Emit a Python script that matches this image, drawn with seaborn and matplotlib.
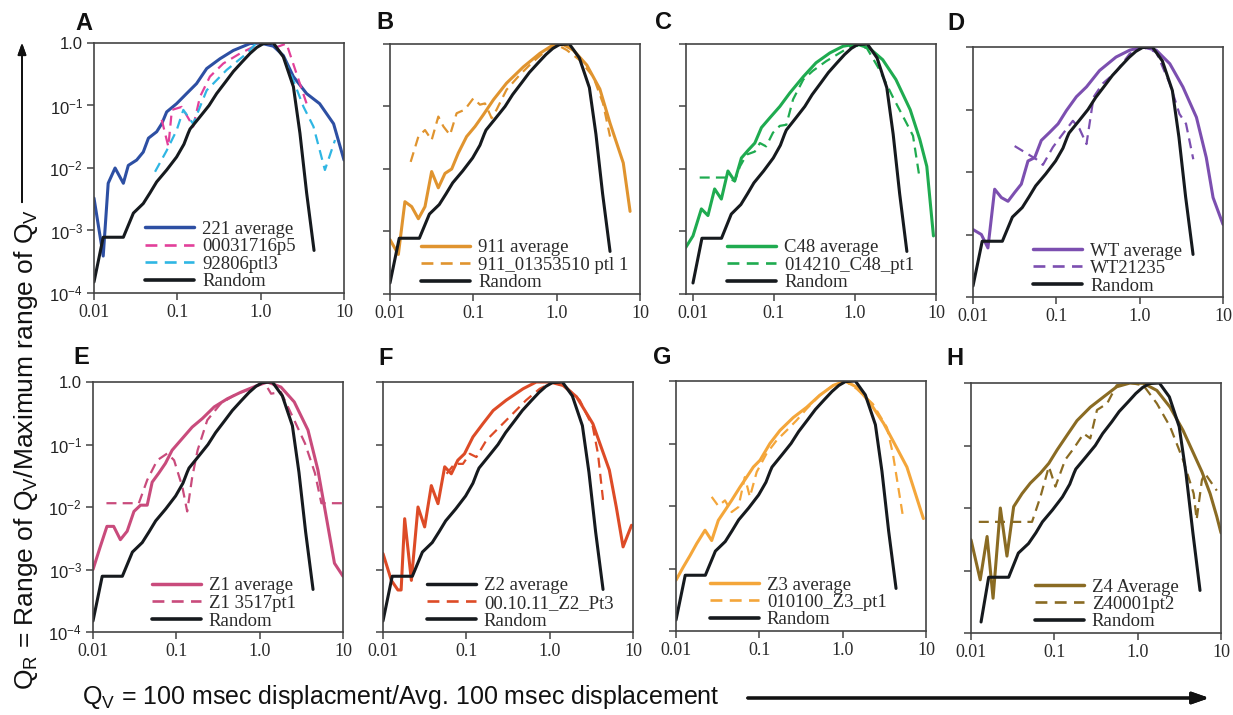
import numpy as np
import pandas as pd
import seaborn as sns
import matplotlib.pyplot as plt
from matplotlib.lines import Line2D
from matplotlib.ticker import FixedLocator, FixedFormatter, NullLocator
from matplotlib.font_manager import FontProperties

# ---- data ----
# random reference curve (black), same in panels A-G
rand_x = [0.0100, 0.0129, 0.0225, 0.0297, 0.0390, 0.0470, 0.0565, 0.0745, 0.098, 0.120, 0.135, 0.142,
          0.187, 0.240, 0.296, 0.380, 0.470, 0.600, 0.745, 0.900, 1.08, 1.42, 1.87, 2.47, 2.96, 3.56, 4.37]
rand_y = [1.5e-4, 7.8e-4, 7.8e-4, 1.9e-3, 2.7e-3, 4.0e-3, 6.0e-3, 9.3e-3, 0.015, 0.024, 0.036, 0.042,
          0.066, 0.100, 0.155, 0.240, 0.350, 0.500, 0.680, 0.850, 0.98, 1.0, 0.60, 0.20, 0.036, 4.0e-3, 4.8e-4]
# panel H random is drawn a bit to the right
rand_h_x = [0.0132, 0.0163, 0.0283, 0.037, 0.049, 0.060, 0.072, 0.095, 0.125, 0.153, 0.172, 0.181,
            0.24, 0.31, 0.38, 0.49, 0.60, 0.77, 0.95, 1.15, 1.38, 1.82, 2.4, 3.15, 3.8, 4.6, 5.6]
rand_h_y = rand_y

# A
a_avg_x = [0.01, 0.0129, 0.0148, 0.0179, 0.0225, 0.0258, 0.0325, 0.039, 0.045, 0.0565, 0.065, 0.0745, 0.098,
           0.129, 0.17, 0.225, 0.325, 0.47, 0.745, 0.98, 1.42, 1.87, 2.47, 3.56, 5.1, 7.5, 10]
a_avg_y = [3.3e-3, 3.9e-4, 5.7e-3, 0.010, 5.7e-3, 0.011, 0.0134, 0.018, 0.030, 0.038, 0.051, 0.079, 0.107,
           0.155, 0.224, 0.39, 0.56, 0.76, 0.98, 1.0, 0.89, 0.63, 0.29, 0.155, 0.107, 0.051, 0.0134]
a_p5_x = [0.065, 0.078, 0.086, 0.113, 0.155, 0.187, 0.246, 0.356, 0.565, 0.89, 1.18, 1.56, 2.04, 2.7, 3.56]
a_p5_y = [0.059, 0.022, 0.085, 0.095, 0.046, 0.138, 0.29, 0.47, 0.68, 0.92, 1.0, 0.86, 0.98, 0.32, 0.107]
a_p13_x = [0.054, 0.0745, 0.098, 0.118, 0.155, 0.225, 0.39, 0.68, 0.89, 1.42, 1.87, 2.47, 3.27, 4.3, 5.9, 7.8]
a_p13_y = [8.7e-3, 0.019, 0.040, 0.085, 0.051, 0.175, 0.37, 0.68, 1.0, 1.0, 0.6, 0.25, 0.095, 0.046, 9.3e-3, 0.028]

# B
b_avg_x = [0.01, 0.0126, 0.0151, 0.0182, 0.0219, 0.0263, 0.0316, 0.038, 0.0457, 0.055, 0.066, 0.083, 0.105,
           0.132, 0.174, 0.25, 0.398, 0.63, 0.91, 1.2, 1.58, 2.3, 3.3, 4.37, 6.3, 7.6]
b_avg_y = [7.4e-4, 4.3e-4, 3.0e-3, 2.5e-3, 1.6e-3, 2.5e-3, 9.1e-3, 5.0e-3, 8.5e-3, 0.010, 0.018, 0.033, 0.048,
           0.074, 0.128, 0.236, 0.43, 0.71, 0.97, 0.98, 0.80, 0.46, 0.19, 0.054, 0.0125, 2.1e-3]
b_pt_x = [0.0177, 0.0219, 0.0263, 0.0316, 0.038, 0.0437, 0.0525, 0.063, 0.079, 0.10, 0.12, 0.138, 0.166, 0.19,
          0.25, 0.36, 0.52, 0.76, 1.0, 1.32, 1.9, 2.75, 3.6, 4.37]
b_pt_y = [0.013, 0.033, 0.042, 0.029, 0.069, 0.048, 0.035, 0.078, 0.089, 0.135, 0.107, 0.112, 0.065, 0.089,
          0.185, 0.32, 0.52, 0.80, 0.98, 0.80, 0.55, 0.30, 0.112, 0.033]

# C
c_avg_x = [0.0081, 0.01, 0.0127, 0.0153, 0.0185, 0.0224, 0.027, 0.0327, 0.0396, 0.048, 0.058, 0.07, 0.089,
           0.118, 0.157, 0.23, 0.33, 0.49, 0.71, 1.04, 1.5, 2.2, 3.2, 4.8, 6.3, 7.7, 9.3]
c_avg_y = [5.5e-4, 8.5e-4, 2.3e-3, 1.8e-3, 4.8e-3, 3.3e-3, 9.3e-3, 6.4e-3, 0.015, 0.020, 0.026, 0.046, 0.066,
           0.10, 0.165, 0.30, 0.50, 0.72, 0.92, 1.0, 0.86, 0.56, 0.27, 0.089, 0.030, 0.011, 8.5e-4]
c_pt_x = [0.0121, 0.0259, 0.0327, 0.038, 0.046, 0.058, 0.067, 0.08, 0.097, 0.118, 0.142, 0.172, 0.23, 0.30,
          0.44, 0.65, 0.95, 1.4, 2.0, 2.9, 4.3, 5.2, 6.3]
c_pt_y = [7.3e-3, 7.3e-3, 6.4e-3, 0.011, 0.017, 0.019, 0.026, 0.023, 0.038, 0.049, 0.051, 0.13, 0.27, 0.37,
          0.53, 0.72, 0.97, 0.86, 0.39, 0.146, 0.055, 0.034, 6.9e-3]

# D
d_avg_x = [0.01, 0.0126, 0.0151, 0.0182, 0.0219, 0.0263, 0.0316, 0.038, 0.0457, 0.055, 0.066, 0.083, 0.105,
           0.132, 0.174, 0.23, 0.33, 0.52, 0.76, 1.1, 1.58, 2.3, 3.3, 4.8, 6.3, 7.6, 10]
d_avg_y = [1.2e-3, 1.0e-3, 6.1e-4, 5.3e-3, 3.9e-3, 3.4e-3, 4.7e-3, 6.4e-3, 0.015, 0.017, 0.032, 0.043, 0.059,
           0.096, 0.16, 0.23, 0.42, 0.69, 0.89, 1.0, 0.89, 0.54, 0.23, 0.075, 0.017, 3.9e-3, 1.45e-3]
d_pt_x = [0.0316, 0.0575, 0.069, 0.091, 0.12, 0.158, 0.19, 0.23, 0.28, 0.36, 0.52, 0.76, 1.1, 1.58, 2.3, 3.0,
          3.6, 4.4]
d_pt_y = [0.026, 0.016, 0.013, 0.025, 0.041, 0.066, 0.049, 0.028, 0.158, 0.26, 0.40, 0.78, 0.99, 0.83, 0.26,
          0.085, 0.059, 0.016]

# E
e_avg_x = [0.01, 0.0122, 0.0147, 0.0177, 0.0213, 0.0257, 0.031, 0.0372, 0.0447, 0.0513, 0.0617, 0.074, 0.089,
           0.118, 0.155, 0.205, 0.285, 0.41, 0.60, 0.94, 1.24, 1.8, 2.6, 3.8, 5.0, 6.0, 7.9, 10]
e_avg_y = [1.0e-3, 2.3e-3, 4.9e-3, 4.9e-3, 3.0e-3, 4.1e-3, 8.5e-3, 0.0107, 0.0107, 0.025, 0.035, 0.050, 0.081,
           0.125, 0.19, 0.26, 0.40, 0.54, 0.69, 0.88, 1.0, 0.83, 0.48, 0.17, 0.039, 0.010, 1.26e-3, 7.8e-4]
e_pt_x = [0.0145, 0.0355, 0.0447, 0.059, 0.078, 0.094, 0.118, 0.135, 0.155, 0.18, 0.235, 0.34, 0.49, 0.78,
          1.13, 1.37, 1.8, 2.6, 3.5, 4.6, 5.5, 10]
e_pt_y = [0.0115, 0.0115, 0.027, 0.056, 0.072, 0.056, 0.021, 8.5e-3, 0.030, 0.081, 0.245, 0.45, 0.61, 0.78,
          1.0, 0.65, 0.69, 0.245, 0.104, 0.035, 0.0115, 0.0115]

# F
f_avg_x = [0.01, 0.0126, 0.0151, 0.0165, 0.0182, 0.0219, 0.0263, 0.0316, 0.038, 0.0457, 0.055, 0.066, 0.079,
           0.095, 0.12, 0.158, 0.21, 0.30, 0.48, 0.69, 1.0, 1.45, 2.1, 3.3, 5.2, 6.3, 7.6, 9.6]
f_avg_y = [1.8e-3, 6.7e-4, 4.7e-4, 4.7e-4, 6.5e-3, 6.7e-4, 0.010, 4.8e-3, 0.022, 0.0113, 0.044, 0.034, 0.056,
           0.071, 0.132, 0.215, 0.35, 0.51, 0.78, 1.0, 1.0, 0.88, 0.58, 0.215, 0.039, 0.010, 2.3e-3, 5.1e-3]
f_pt_x = [0.058, 0.072, 0.091, 0.11, 0.132, 0.174, 0.25, 0.36, 0.52, 0.76, 1.1, 1.58, 2.3, 3.3, 3.8, 4.4]
f_pt_y = [0.034, 0.049, 0.049, 0.071, 0.063, 0.117, 0.19, 0.31, 0.51, 0.78, 1.0, 0.83, 0.51, 0.19, 0.071, 0.012]

# G
g_avg_x = [0.01, 0.0122, 0.0147, 0.0177, 0.0223, 0.0268, 0.0322, 0.0387, 0.0465, 0.0585, 0.0705, 0.0847,
           0.102, 0.134, 0.177, 0.255, 0.37, 0.53, 0.77, 1.07, 1.47, 2.1, 3.1, 4.4, 5.9, 9.3]
g_avg_y = [6.5e-4, 1.05e-3, 1.6e-3, 2.5e-3, 4.1e-3, 2.8e-3, 5.9e-3, 8.5e-3, 0.0123, 0.020, 0.029, 0.042,
           0.054, 0.10, 0.162, 0.26, 0.38, 0.59, 0.85, 1.0, 0.80, 0.46, 0.21, 0.088, 0.042, 6.3e-3]
g_pt_x = [0.0268, 0.0322, 0.0387, 0.0465, 0.056, 0.067, 0.077, 0.093, 0.122, 0.161, 0.213, 0.28, 0.37, 0.53,
          0.77, 1.07, 1.47, 2.3, 3.4, 4.0, 5.3]
g_pt_y = [0.014, 0.010, 0.0123, 8.0e-3, 9.6e-3, 0.029, 0.014, 0.035, 0.069, 0.112, 0.162, 0.235, 0.36, 0.59,
          0.85, 1.0, 0.75, 0.43, 0.18, 0.069, 6.7e-3]

# H
h_avg_x = [0.01, 0.0129, 0.0156, 0.0184, 0.0225, 0.027, 0.0325, 0.041, 0.0515, 0.068, 0.086, 0.108, 0.142,
           0.187, 0.27, 0.39, 0.56, 0.81, 1.17, 1.7, 2.45, 3.5, 4.7, 5.9, 7.4, 8.9, 10]
h_avg_y = [3.1e-3, 7.1e-4, 3.5e-3, 3.6e-4, 0.010, 1.7e-3, 0.0105, 0.017, 0.025, 0.036, 0.052, 0.085, 0.146,
           0.25, 0.41, 0.60, 0.87, 1.0, 0.99, 0.76, 0.41, 0.175, 0.074, 0.038, 0.017, 7.3e-3, 4.0e-3]
h_pt_x = [0.0124, 0.054, 0.068, 0.086, 0.103, 0.135, 0.17, 0.225, 0.27, 0.325, 0.43, 0.56, 0.81, 1.17, 1.7,
          2.45, 3.5, 4.7, 5.1, 5.9, 6.4, 8.9]
h_pt_y = [6.0e-3, 6.0e-3, 0.015, 0.046, 0.022, 0.059, 0.089, 0.155, 0.13, 0.37, 0.47, 0.92, 1.0, 0.92, 0.47,
          0.20, 0.059, 0.017, 6.5e-3, 0.028, 0.036, 0.019]

xticks = [0.01, 0.1, 1.0, 10]
xtick_labels = ["0.01", "0.1", "1.0", "10"]
yticks = [1e-4, 1e-3, 1e-2, 1e-1, 1.0]
ytick_labels = ["10$^{-4}$", "10$^{-3}$", "10$^{-2}$", "10$^{-1}$", "1.0"]

BLACK = "#161a1e"
solid_lw, dash_lw = 2.2, 1.6
dash = (0, (4.5, 2.8))

# panel specs: (letter, lines, left px, top px, xmin, legend x)
panels = [
    ("A", [(a_avg_x, a_avg_y, "#2d4fa3", "-", "221 average"),
           (a_p5_x, a_p5_y, "#e2409a", dash, "00031716p5"),
           (a_p13_x, a_p13_y, "#2fb6e3", dash, "92806ptl3")], 94, 43, 0.01, 0.205),
    ("B", [(b_avg_x, b_avg_y, "#e0942f", "-", "911 average"),
           (b_pt_x, b_pt_y, "#e0942f", dash, "911_01353510 ptl 1")], 390, 44, 0.01, 0.125),
    ("C", [(c_avg_x, c_avg_y, "#1fab50", "-", "C48 average"),
           (c_pt_x, c_pt_y, "#1fab50", dash, "014210_C48_pt1")], 686, 44, 0.0082, 0.165),
    ("D", [(d_avg_x, d_avg_y, "#7c4fb0", "-", "WT average"),
           (d_pt_x, d_pt_y, "#7c4fb0", dash, "WT21235")], 973, 47, 0.01, 0.24),
    ("E", [(e_avg_x, e_avg_y, "#c94b7c", "-", "Z1 average"),
           (e_pt_x, e_pt_y, "#c94b7c", dash, "Z1 3517pt1")], 93, 382, 0.01, 0.235),
    ("F", [(f_avg_x, f_avg_y, "#dd4b27", "-", "Z2 average"),
           (f_pt_x, f_pt_y, "#dd4b27", dash, "00.10.11_Z2_Pt3")], 383, 382, 0.01, 0.175),
    ("G", [(g_avg_x, g_avg_y, "#f4a63a", "-", "Z3 average"),
           (g_pt_x, g_pt_y, "#f4a63a", dash, "010100_Z3_pt1")], 676, 381, 0.01, 0.135),
    ("H", [(h_avg_x, h_avg_y, "#8a6b23", "-", "Z4 Average"),
           (h_pt_x, h_pt_y, "#8a6b23", dash, "Z40001pt2")], 971, 383, 0.01, 0.255),
]
letter_x = {"A": 75, "B": 376, "C": 655, "D": 947, "E": 73, "F": 378, "G": 653, "H": 946}
letter_y = {"A": 30, "B": 29, "C": 29, "D": 30, "E": 364, "F": 365, "G": 364, "H": 365}

sns.set_style("ticks")
plt.rcParams["font.family"] = ["Liberation Sans", "DejaVu Sans"]
plt.rcParams["mathtext.fontset"] = "custom"
plt.rcParams["mathtext.rm"] = "Liberation Sans"
plt.rcParams["mathtext.it"] = "Liberation Sans"

W, H = 1233, 715
fig = plt.figure(figsize=(W / 100, H / 100), dpi=100)
serif = FontProperties(family="Liberation Serif", size=13.5)

for letter, lines, left, top, xmin, leg_x in panels:
    ax = fig.add_axes([left / W, 1 - (top + 250) / H, 250 / W, 250 / H])
    ax.set_xscale("log")
    ax.set_yscale("log")
    handles = []
    for lx, ly, col, ls, lab in lines:
        lw = solid_lw if ls == "-" else dash_lw
        sns.lineplot(x=lx, y=ly, ax=ax, color=col, linestyle=ls, linewidth=lw,
                     estimator=None, sort=False)
        # panel F's legend shows the average as a black line
        hcol = BLACK if (letter == "F" and ls == "-") else col
        handles.append(Line2D([0], [0], color=hcol, linestyle=ls, linewidth=lw + 0.3))
    rx, ry = (rand_h_x, rand_h_y) if letter == "H" else (rand_x, rand_y)
    sns.lineplot(x=rx, y=ry, ax=ax, color=BLACK, linewidth=2.2, estimator=None, sort=False)
    handles.append(Line2D([0], [0], color=BLACK, linewidth=2.6))
    labels = [l[4] for l in lines] + ["Random"]
    leg = ax.legend(handles, labels, loc="lower left", bbox_to_anchor=(leg_x, 0.01),
                    frameon=False, prop=serif, handlelength=2.6, handletextpad=0.45,
                    labelspacing=0.02, borderaxespad=0, borderpad=0)
    for t in leg.get_texts():
        t.set_color("#2a2a2a")

    ax.set_xlim(xmin, 10)
    ax.set_ylim(1e-4, 1.0)
    ax.xaxis.set_major_locator(FixedLocator(xticks))
    ax.xaxis.set_major_formatter(FixedFormatter(xtick_labels))
    ax.xaxis.set_minor_locator(NullLocator())
    ax.yaxis.set_major_locator(FixedLocator(yticks))
    ax.yaxis.set_minor_locator(NullLocator())
    if letter in ("A", "E"):
        ax.yaxis.set_major_formatter(FixedFormatter(ytick_labels))
    else:
        ax.yaxis.set_major_formatter(FixedFormatter([""] * 5))
    for lab in ax.get_xticklabels():
        lab.set_fontproperties(FontProperties(family="Liberation Serif", size=13))
    for lab in ax.get_yticklabels():
        lab.set_fontsize(12)
    ax.tick_params(direction="out", length=5, width=1.1, colors="#444444", pad=3)
    ax.tick_params(axis="x", labelcolor="#2a2a2a")
    ax.tick_params(axis="y", labelcolor="#222222")
    for sp in ax.spines.values():
        sp.set_visible(True)
        sp.set_color("#444444")
        sp.set_linewidth(1.2)
    ax.set_xlabel("")
    ax.set_ylabel("")
    fig.text(letter_x[letter] / W, 1 - letter_y[letter] / H, letter, fontsize=17,
             fontweight="bold", ha="left", va="baseline", color="#111111")

# shared axis labels with arrows
fig.text(82 / W, 1 - 697 / H, r"Q$_\mathregular{V}$ = 100 msec displacment/Avg. 100 msec displacement",
         fontsize=18, ha="left", va="center", color="#111111")
fig.add_artist(plt.annotate("", xy=(1212 / W, 1 - 698 / H), xytext=(745 / W, 1 - 698 / H),
                            xycoords="figure fraction", textcoords="figure fraction",
                            arrowprops=dict(arrowstyle="-|>,head_length=1.0,head_width=0.35",
                                            color="#111111", lw=2.2)))
fig.text(26 / W, 1 - 690 / H, r"Q$_\mathregular{R}$ = Range of Q$_\mathregular{V}$/Maximum range of Q$_\mathregular{V}$",
         fontsize=19, rotation=90, ha="center", va="bottom", color="#111111")
fig.add_artist(plt.annotate("", xy=(22 / W, 1 - 40 / H), xytext=(22 / W, 1 - 205 / H),
                            xycoords="figure fraction", textcoords="figure fraction",
                            arrowprops=dict(arrowstyle="-|>,head_length=0.7,head_width=0.25",
                                            color="#111111", lw=1.3)))

fig.savefig("out.png", dpi=100)
